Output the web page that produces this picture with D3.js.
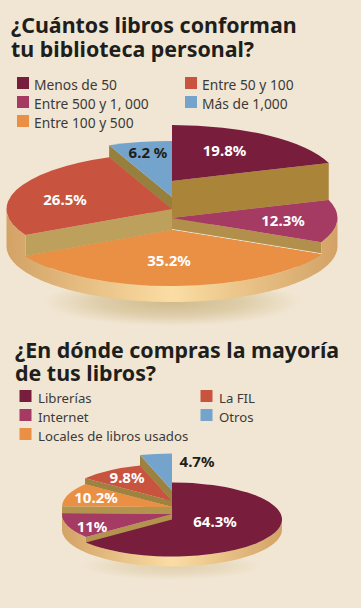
<!DOCTYPE html>
<html>
<head>
<meta charset="utf-8">
<script src="https://cdn.jsdelivr.net/npm/d3@7"></script>
<style>
    html, body { margin: 0; padding: 0; background: #f1e6d3; }
    svg { display: block; }
    text { font-family: "Noto Sans", sans-serif; }
    .title { font-weight: 700; font-size: 21.4px; fill: #1e1e1c; }
    .legend { fill: #3c3a38; }
    .value { font-weight: 700; font-size: 15px; text-anchor: middle; }
</style>
</head>
<body>
<script>
// data
const libraryCategories = ['Menos de 50', 'Entre 500 y 1, 000', 'Entre 100 y 500', 'Entre 50 y 100', 'Más de 1,000'];
const libraryValues = [19.8, 12.3, 35.2, 26.5, 6.2];
const libraryLabels = ['19.8%', '12.3%', '35.2%', '26.5%', '6.2 %'];

const shopCategories = ['Librerías', 'Internet', 'Locales de libros usados', 'La FIL', 'Otros'];
const shopValues = [64.3, 11, 10.2, 9.8, 4.7];
const shopLabels = ['64.3%', '11%', '10.2%', '9.8%', '4.7%'];

// same colour order in both charts
const colours = ['#781e3c', '#a53a62', '#ea9045', '#c85440', '#74a3cb'];

const svg = d3.select('body').append('svg')
    .attr('width', 361)
    .attr('height', 608);

const defs = svg.append('defs');

const shadow = defs.append('radialGradient').attr('id', 'shadow');
shadow.append('stop').attr('offset', '0%').attr('stop-color', '#cdb686');
shadow.append('stop').attr('offset', '55%').attr('stop-color', '#dccaa4');
shadow.append('stop').attr('offset', '100%').attr('stop-color', '#f1e6d3');

function rimGradient(id, x0, x1) {
    const g = defs.append('linearGradient').attr('id', id)
        .attr('gradientUnits', 'userSpaceOnUse')
        .attr('x1', x0).attr('x2', x1).attr('y1', 0).attr('y2', 0);
    g.append('stop').attr('offset', '0%').attr('stop-color', '#d3a266');
    g.append('stop').attr('offset', '50%').attr('stop-color', '#fbdda3');
    g.append('stop').attr('offset', '100%').attr('stop-color', '#d3a266');
}

// one text element with a tspan per line
function drawTitle(lines, x, y, lineGap) {
    const t = svg.append('text').attr('class', 'title').attr('y', y);
    lines.forEach((line, i) => {
        t.append('tspan')
            .attr('x', x)
            .attr('dy', i ? lineGap : 0)
            .text(line);
    });
}

function drawLegend(categories, slots, fontSize, textGap) {
    categories.forEach((c, i) => {
        const s = slots[i];
        svg.append('rect')
            .attr('x', s[0]).attr('y', s[1] - 13)
            .attr('width', 12).attr('height', 12)
            .attr('fill', colours[i]);
        svg.append('text').attr('class', 'legend')
            .attr('x', s[0] + textGap).attr('y', s[1])
            .style('font-size', fontSize + 'px')
            .text(c);
    });
}

/**
 * Draws one exploded 3d pie.
 * o.lift: y of each slice's tip, o.wallTo: y the cut walls go down to,
 * o.order: paint order, back slices first.
 */
function drawPie(values, labels, o) {
    const slices = d3.pie().sort(null).value(d => d)(values);
    const arcGen = d3.arc().innerRadius(0).outerRadius(o.rx);

    const px = a => o.cx + o.rx * Math.sin(a);
    const py = a => -o.ry * Math.cos(a);

    const rimGen = d3.area()
        .x(a => px(a))
        .y0(a => py(a))
        .y1(a => py(a));

    // soft shadow on the page
    svg.append('ellipse')
        .attr('cx', o.cx).attr('cy', o.shadowY)
        .attr('rx', o.shadowRx).attr('ry', o.shadowRy)
        .attr('fill', 'url(#shadow)')
        .attr('opacity', o.shadowOpacity);

    o.order.forEach(i => {
        const s = slices[i];
        const tip = o.lift[i];
        const g = svg.append('g');

        // walls on both cut edges, the back one ends up under the top face
        [s.startAngle, s.endAngle].forEach(a => {
            g.append('path')
                .attr('fill', o.walls[i])
                .attr('d', d3.line()([
                    [o.cx, tip], [px(a), tip + py(a)],
                    [px(a), o.wallTo[i] + py(a)], [o.cx, o.wallTo[i]]
                ]));
        });

        // outer rim, only the part that faces the viewer
        const a0 = Math.max(s.startAngle, Math.PI / 2);
        const a1 = Math.min(s.endAngle, Math.PI * 3 / 2);
        if (a1 > a0) {
            const angles = d3.range(a0, a1, 0.02).concat([a1]);
            rimGen.y0(a => tip + py(a)).y1(a => o.baseY + py(a));
            g.append('path')
                .attr('fill', `url(#${o.rimId})`)
                .attr('d', rimGen(angles));
        }

        g.append('path')
            .attr('transform', `translate(${o.cx},${tip}) scale(1,${o.ry / o.rx})`)
            .attr('fill', colours[i])
            .attr('d', arcGen(s));
    });

    labels.forEach((l, i) => {
        svg.append('text').attr('class', 'value')
            .attr('x', o.labelAt[i][0]).attr('y', o.labelAt[i][1])
            .attr('fill', o.labelDark.includes(i) ? '#1e1e1c' : '#ffffff')
            .text(l);
    });
}

// first chart
drawTitle(['¿Cuántos libros conforman', 'tu biblioteca personal?'], 11, 33, 24);
drawLegend(libraryCategories, [[17, 90], [17, 109], [17, 128], [185, 90], [185, 109]], 13.8, 17);
rimGradient('rimA', 7, 337);
drawPie(libraryValues, libraryLabels, {
    cx: 172, rx: 165.5, ry: 56, baseY: 246, rimId: 'rimA',
    lift: [181, 218, 230, 209, 197],
    wallTo: [218, 229, 246, 230, 210],
    walls: ['#a98439', '#b28f4a', '#b28f4a', '#bda05c', '#97803e'],
    order: [4, 3, 0, 1, 2],
    labelAt: [[224.5, 156], [283, 225.5], [169, 266], [65, 205], [148, 158]],
    labelDark: [4],
    shadowY: 302, shadowRx: 128, shadowRy: 24, shadowOpacity: 0.9
});

// second chart
drawTitle(['¿En dónde compras la mayoría', 'de tus libros?'], 15, 358, 22.5);
drawLegend(shopCategories, [[19.5, 403], [19.5, 422], [19.5, 441], [200.5, 403], [200.5, 422]], 13.2, 18.5);
rimGradient('rimB', 62, 282);
drawPie(shopValues, shopLabels, {
    cx: 172, rx: 110, ry: 37, baseY: 529.5, rimId: 'rimB',
    lift: [519.5, 514, 507, 501, 490.5],
    wallTo: [529.5, 520.5, 514, 507, 501],
    walls: ['#b3944e', '#b3944e', '#b3944e', '#9e8340', '#9c823f'],
    order: [4, 3, 2, 1, 0],
    labelAt: [[215, 527], [92, 532], [96, 503], [127, 483], [197, 467]],
    labelDark: [4],
    shadowY: 566, shadowRx: 90, shadowRy: 14, shadowOpacity: 0.45
});
</script>
</body>
</html>
